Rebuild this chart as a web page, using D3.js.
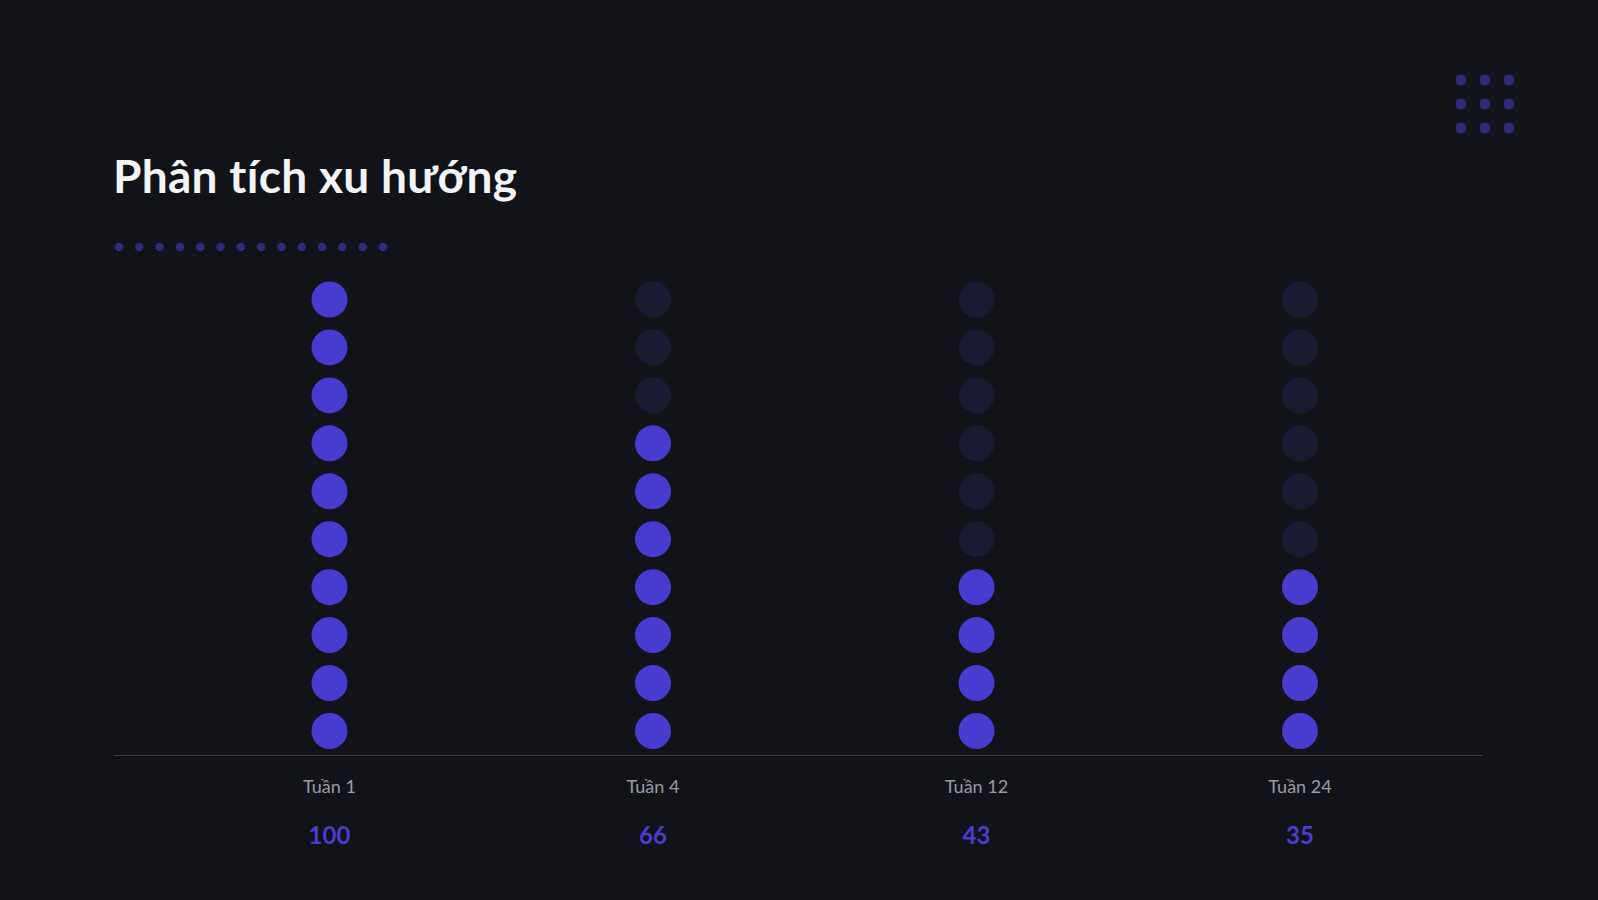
<!DOCTYPE html>
<html>
<head>
<meta charset="utf-8">
<script src="https://cdn.jsdelivr.net/npm/d3@7"></script>
<style>
html,body{margin:0;padding:0;background:#121319;}
svg{display:block;}
</style>
</head>
<body>
<svg id="chart" width="1598" height="900"></svg>
<script>
const categories = ["Tuần 1", "Tuần 4", "Tuần 12", "Tuần 24"];
const values = [100, 66, 43, 35];
const dotLevels = [1,2,3,4,5,6,7,8,9,10];
const title = "Phân tích xu hướng";

const W = 1598, H = 900;
const svg = d3.select("#chart");
svg.append("rect").attr("width", W).attr("height", H).attr("fill", "#121319");

const axisLeft = 114, axisRight = 1483, axisY = 755.5;

// column positions
const x = d3.scalePoint().domain(categories).range([329.5, 1300]);
// dot levels (1 at bottom, 10 at top)
const y = d3.scaleLinear().domain([1, 10]).range([731, 299.5]);

// title
svg.append("text")
  .attr("x", 113).attr("y", 193)
  .attr("fill", "#f3f4f6")
  .attr("font-family", "Lato, 'Noto Sans', sans-serif")
  .attr("font-weight", 700)
  .attr("font-size", 46)
  .attr("letter-spacing", 0.3)
  .text(title);

// decorative dotted row under title
const deco = d3.range(14);
const xd = d3.scaleLinear().domain([0, 13]).range([119, 383]);
svg.append("g").selectAll("circle").data(deco).join("circle")
  .attr("cx", d => xd(d)).attr("cy", 247).attr("r", 4.3)
  .attr("fill", "#2f2a80");

// decorative grid top-right
const grid = d3.cross([0,1,2],[0,1,2]);
const xg = d3.scaleLinear().domain([0,2]).range([1461, 1509]);
const yg = d3.scaleLinear().domain([0,2]).range([80, 128]);
svg.append("g").selectAll("circle").data(grid).join("circle")
  .attr("cx", d => xg(d[0])).attr("cy", d => yg(d[1])).attr("r", 5.5)
  .attr("fill", "#2d2977");

// dots
const cells = [];
categories.forEach((c, i) => {
  const filled = Math.round(values[i] / 10);
  dotLevels.forEach(l => cells.push({c, l, on: l <= filled}));
});
svg.append("g").selectAll("circle").data(cells).join("circle")
  .attr("cx", d => x(d.c)).attr("cy", d => y(d.l)).attr("r", 18)
  .attr("fill", d => d.on ? "#483bcf" : "#1b1a33");

// axis line
svg.append("line")
  .attr("x1", axisLeft).attr("x2", axisRight)
  .attr("y1", axisY).attr("y2", axisY)
  .attr("stroke", "#3a3b41").attr("stroke-width", 1.2);

// category labels
svg.append("g").selectAll("text").data(categories).join("text")
  .attr("x", d => x(d)).attr("y", 793)
  .attr("text-anchor", "middle")
  .attr("fill", "#9a9ca5")
  .attr("font-family", "Lato, 'Noto Sans', sans-serif")
  .attr("font-size", 18)
  .text(d => d);

// values
svg.append("g").selectAll("text").data(values).join("text")
  .attr("x", (d, i) => x(categories[i])).attr("y", 844)
  .attr("text-anchor", "middle")
  .attr("fill", "#4a3dd0")
  .attr("font-family", "Lato, 'Noto Sans', sans-serif")
  .attr("font-weight", 700)
  .attr("font-size", 24)
  .text(d => d);
</script>
</body>
</html>
